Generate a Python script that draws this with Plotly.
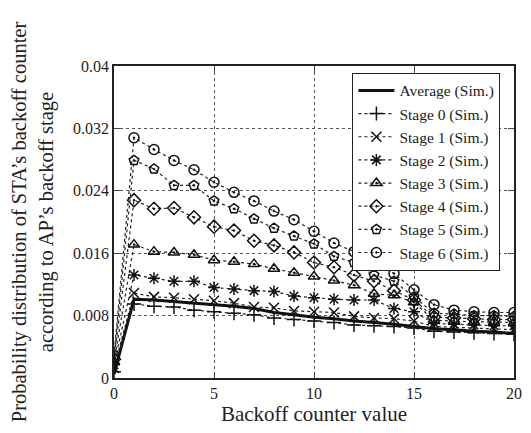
import plotly.graph_objects as go

x_vals = list(range(0, 21))

avg = [0.0005, 0.0101, 0.0100, 0.0098, 0.0096, 0.0094, 0.0092, 0.0089, 0.0084, 0.0081,
       0.0078, 0.0076, 0.0073, 0.0071, 0.0069, 0.0066, 0.0063, 0.0062, 0.0060, 0.0059, 0.0057]
stage0 = [0.0008, 0.0095, 0.0092, 0.0091, 0.0087, 0.0085, 0.0083, 0.0081, 0.0077, 0.0075,
          0.0073, 0.0071, 0.0068, 0.0067, 0.0066, 0.0064, 0.0060, 0.0059, 0.0058, 0.0057, 0.0056]
stage1 = [0.0013, 0.0109, 0.0104, 0.0103, 0.0101, 0.0099, 0.0096, 0.0091, 0.0090, 0.0086,
          0.0085, 0.0084, 0.0079, 0.0077, 0.0076, 0.0073, 0.0066, 0.0065, 0.0064, 0.0063, 0.0062]
stage2 = [0.0017, 0.0132, 0.0128, 0.0124, 0.0124, 0.0116, 0.0114, 0.0112, 0.0111, 0.0105,
          0.0103, 0.0101, 0.0100, 0.0100, 0.0089, 0.0085, 0.0070, 0.0069, 0.0068, 0.0067, 0.0067]
stage3 = [0.0021, 0.0171, 0.0162, 0.0161, 0.0158, 0.0151, 0.0149, 0.0146, 0.0140, 0.0135,
          0.0130, 0.0125, 0.0119, 0.0108, 0.0106, 0.0097, 0.0074, 0.0073, 0.0072, 0.0072, 0.0071]
stage4 = [0.0024, 0.0228, 0.0217, 0.0218, 0.0206, 0.0194, 0.0189, 0.0176, 0.0170, 0.0161,
          0.0148, 0.0142, 0.0132, 0.0124, 0.0112, 0.0100, 0.0078, 0.0077, 0.0076, 0.0075, 0.0075]
stage5 = [0.0026, 0.0279, 0.0268, 0.0247, 0.0247, 0.0227, 0.0217, 0.0204, 0.0192, 0.0182,
          0.0172, 0.0156, 0.0148, 0.0132, 0.0124, 0.0104, 0.0083, 0.0082, 0.0080, 0.0080, 0.0079]
stage6 = [0.0029, 0.0308, 0.0293, 0.0279, 0.0267, 0.0251, 0.0238, 0.0227, 0.0214, 0.0203,
          0.0188, 0.0173, 0.0162, 0.0148, 0.0134, 0.0113, 0.0094, 0.0087, 0.0085, 0.0084, 0.0084]

series_names = ["Stage 0 (Sim.)", "Stage 1 (Sim.)", "Stage 2 (Sim.)", "Stage 3 (Sim.)",
                "Stage 4 (Sim.)", "Stage 5 (Sim.)", "Stage 6 (Sim.)"]
series_vals = [stage0, stage1, stage2, stage3, stage4, stage5, stage6]
symbols = ["cross-thin-open", "x-thin-open", "asterisk-open", "triangle-up-open-dot",
           "diamond-open-dot", "pentagon-open-dot", "circle-open-dot"]
sizes = [10, 10, 10, 10, 10, 10, 10]

y_ticks = [0, 0.008, 0.016, 0.024, 0.032, 0.04]
y_tick_text = ["0", "0.008", "0.016", "0.024", "0.032", "0.04"]
x_ticks = [0, 5, 10, 15, 20]

fig = go.Figure()
fig.add_trace(go.Scatter(x=x_vals, y=avg, mode="lines", name="Average (Sim.)",
                         line=dict(color="#111", width=3)))
for name, vals, sym, sz in zip(series_names, series_vals, symbols, sizes):
    fig.add_trace(go.Scatter(
        x=x_vals, y=vals, mode="lines+markers", name=name,
        line=dict(color="#222", width=1.2, dash="dot"),
        marker=dict(symbol=sym, size=sz, color="#111",
                    line=dict(color="#111", width=1.5)),
    ))

font_family = "Liberation Serif, Times New Roman, serif"
fig.update_layout(
    width=531, height=433,
    margin=dict(l=114, r=9, t=66, b=55),
    paper_bgcolor="white", plot_bgcolor="white",
    font=dict(family=font_family, color="#222", size=16),
    showlegend=True,
    legend=dict(
        x=0.596, y=0.978, xanchor="left", yanchor="top",
        bgcolor="white", bordercolor="#222", borderwidth=1,
        font=dict(family=font_family, size=15.5, color="#222"),
        tracegroupgap=0, itemwidth=36,
    ),
    xaxis=dict(
        range=[0, 20], tickvals=x_ticks, ticks="inside", ticklen=6,
        mirror="allticks", showline=True, linecolor="#222", linewidth=1.5,
        showgrid=True, gridcolor="#555", griddash="dot", gridwidth=1,
        zeroline=False, tickfont=dict(size=16),
        title=dict(text="Backoff counter value", font=dict(size=21), standoff=0),
    ),
    yaxis=dict(
        range=[0, 0.04], tickvals=y_ticks, ticktext=y_tick_text, ticks="inside", ticklen=6,
        mirror="allticks", showline=True, linecolor="#222", linewidth=1.5,
        showgrid=True, gridcolor="#555", griddash="dot", gridwidth=1,
        zeroline=False, tickfont=dict(size=16),
        title=dict(text="Probability distribution of STA\u2019s backoff counter<br>according to AP\u2019s backoff stage",
                   font=dict(size=20.5), standoff=14),
    ),
)

fig.write_html("out.html")
